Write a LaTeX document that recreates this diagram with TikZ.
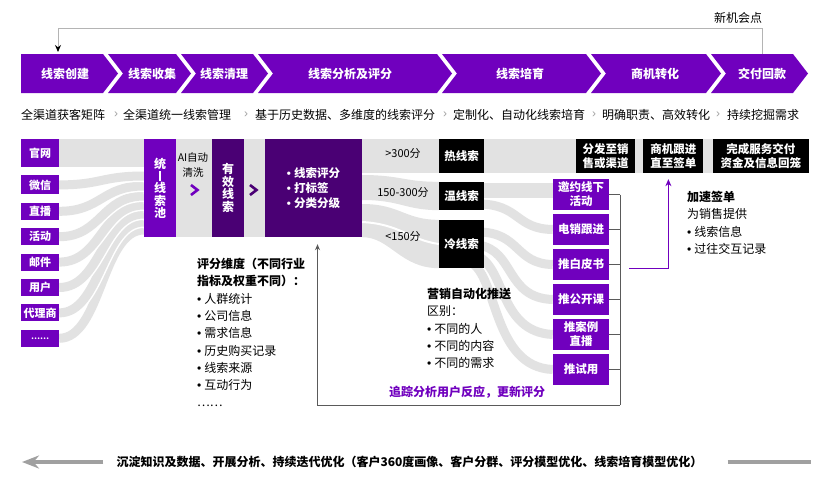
\documentclass[tikz,border=0pt]{standalone}
\usepackage{fontspec}
\setmainfont{Noto Sans CJK SC}
\newfontfamily\bulletfont{Liberation Sans}
\usepackage{tikz}
\usetikzlibrary{positioning,arrows.meta,calc,backgrounds}
\definecolor{leadpurple}{RGB}{112,0,190}
\definecolor{deeppurple}{RGB}{74,0,116}
\definecolor{bandgray}{RGB}{226,226,226}
\definecolor{linegray}{RGB}{180,180,180}
\definecolor{sedgray}{RGB}{160,160,160}
\definecolor{brackgray}{RGB}{90,90,90}
\newcommand{\sz}[2]{\fontsize{#1}{#2}\selectfont}
\newcommand{\bul}{{\bulletfont •}\hspace{3pt}}
\tikzset{
  funnel/.style={x=1pt,y=-1pt,
    >={Stealth[length=6pt,width=5pt]},
    node distance=8pt},
  every node/.style={inner sep=0pt},
  stagelabel/.style={text=white,font=\bfseries\sz{12}{14}},
  subtitle/.style={anchor=west,font=\sz{12}{14}},
  subsep/.style={text=sedgray,font=\bulletfont\sz{12}{14}},
  source/.style={fill=leadpurple,text=white,font=\bfseries\sz{11}{13},
    minimum width=38pt,minimum height=17pt},
  poolbox/.style={fill=leadpurple,text=white,font=\bfseries\sz{12}{12.3},
    align=center,minimum width=32pt,minimum height=98pt},
  deepbox/.style={fill=deeppurple,text=white,font=\bfseries\sz{12}{12.5},
    align=center,minimum height=98pt},
  blackbox/.style={fill=black,text=white,font=\bfseries\sz{11.5}{14},
    align=center,minimum width=45pt},
  pushbox/.style={fill=leadpurple,text=white,font=\bfseries\sz{11.5}{14},
    align=center,minimum width=56pt,minimum height=31pt},
  score label/.style={font=\sz{11}{13}},
  note/.style={anchor=north west,align=left,font=\sz{12}{17.3}},
  flow/.style={draw=bandgray,line width=9pt,
    preaction={draw=white,line width=12pt}},
  flow wide/.style={draw=bandgray,line width=15pt},
  gap chevron/.style={line width=2.6pt},
  loopline/.style={draw=linegray,line width=1pt,
    -{Stealth[black,length=7pt,width=6pt]},shorten >=2pt},
  bracket/.style={draw=brackgray,line width=0.9pt},
  push arrow/.style={draw=leadpurple,line width=1pt,
    -{Stealth[leadpurple,length=7pt,width=6pt]},shorten >=6pt},
  sediment/.style={draw=sedgray,line width=3.5pt}
}

\begin{document}
\begin{tikzpicture}[funnel]
\useasboundingbox (0,0) rectangle (832,490);

% stages along the top
\foreach \l/\r/\k/\cx/\t/\n in {21/103/0/65/线索创建/c1, 108/176/15/152/线索收集/c2,
    181/253/15/224/线索清理/c3, 258/437/15/350/线索分析及评分/c4,
    442/586/15/520/线索培育/c5, 591/706/15/655/商机转化/c6, 711/793/15/762/交付回款/c7}{
  \fill[leadpurple] (\l,54) -- (\r,54) -- (\r+15,73.5) -- (\r,93) -- (\l,93) -- (\l+\k,73.5) -- cycle;
  \node[stagelabel] (\n) at (\cx,73.5) {\t};
}
\coordinate (newop) at (762,54);
\coordinate (create) at (58,54);
\draw[loopline] (newop) -- ++(0,-26) -| (create);
\node[font=\sz{12}{14}] (newlbl) at (738,18) {新机会点};

% one line under each stage
\foreach \x/\t [count=\i] in {21/全渠道获客矩阵, 123/全渠道统一线索管理, 255/基于历史数据、多维度的线索评分,
    453/定制化、自动化线索培育, 602/明确职责、高效转化, 727/持续挖掘需求}
  \node[subtitle] (s\i) at (\x,115) {\t};
\foreach \x [count=\i] in {116,246,445,594,718}
  \node[subsep] (g\i) at (\x,115) {›};

% sources
\node[source,minimum height=28pt] (w1) at (40,153) {官网};
\node[source,minimum height=19pt,below=of w1] (w2) {微信};
\node[source,below=of w2] (w3) {直播};
\node[source,below=of w3] (w4) {活动};
\node[source,below=of w4] (w5) {邮件};
\node[source,below=of w5] (w6) {用户};
\node[source,below=of w6] (w7) {代理商};
\node[source,below=of w7,font=\bfseries\sz{8}{10}] (w8) {……};

% pool, cleaning, scoring
\node[poolbox] (pool) at (160,188) {统\\\rule[-0.5pt]{1.8pt}{10pt}\\线\\索\\池};
\node[font=\sz{10.5}{15},align=center] (clean) at (193,165.5) {AI自动\\清洗};
\node[deepbox,minimum width=32pt] (valid) at (228,188) {有\\效\\线\\索};
\node[deepbox,minimum width=97pt,align=left,font=\bfseries\sz{11.5}{15}] (score) at (313.5,188)
  {\bul 线索评分\\\bul 打标签\\\bul 分类分级};
\draw[leadpurple,gap chevron] (191,185) -- (197.5,190) -- (191,195);
\draw[deeppurple,gap chevron] (250,185) -- (256.5,190) -- (250,195);

% grades
\node[score label] (t1) at (403,153) {>300分};
\node[score label] (t2) at (403,192) {150-300分};
\node[score label] (t3) at (403,236) {<150分};
\node[blackbox,minimum height=34pt] (hot) at (461.5,156) {热线索};
\node[blackbox,minimum height=28pt] (warm) at (461.5,196) {温线索};
\node[blackbox,minimum height=48pt] (cold) at (461.5,244) {冷线索};

% hot lead path
\node[blackbox,minimum width=59pt,minimum height=34pt] (k1) at (605.5,156) {分发至销\\售或渠道};
\node[blackbox,minimum width=60pt,minimum height=34pt,right=of k1] (k2) {商机跟进\\直至签单};
\node[blackbox,minimum width=96pt,minimum height=34pt,right=9pt of k2] (k3) {完成服务交付\\资金及信息回笼};

% nurture actions
\node[pushbox] (m1) at (581,194.5) {邀约线下\\活动};
\node[pushbox,below=3.6pt of m1] (m2) {电销跟进};
\node[pushbox,below=3.6pt of m2] (m3) {推白皮书};
\node[pushbox,below=3.6pt of m3] (m4) {推公开课};
\node[pushbox,below=3.6pt of m4] (m5) {推案例\\直播};
\node[pushbox,below=3.6pt of m5] (m6) {推试用};

% gray bands behind
\begin{scope}[on background layer]
  \fill[bandgray] (w1.north east) rectangle (pool.west |- w1.south);
  \fill[bandgray] (pool.north east) rectangle (score.south west);
  \fill[bandgray] (score.north east) rectangle (k3.south east);
  \fill[bandgray] (score.east |- 0,175) .. controls (400,175) and (405,182) .. (warm.north west)
    -- (warm.south west) .. controls (405,210) and (400,200) .. (score.east |- 0,200) -- cycle;
  \fill[bandgray] (score.east |- 0,204) .. controls (400,204) and (405,220) .. (cold.north west)
    -- (cold.south west) .. controls (400,268) and (390,237) .. (score.south east) -- cycle;
  \draw[white,line width=2pt] (score.east |- 0,222) .. controls (400,224) and (410,240) .. (cold.west);
  \foreach \s/\y in {w8/230, w7/222, w6/214, w5/205, w4/196, w3/186, w2/176}
    \draw[flow] (\s.east) .. controls +(42,0) and +(-42,0) .. (pool.west |- 0,\y);
  \draw[flow] (470,262) .. controls (498,275) and (492,367) .. (m6.west);
  \draw[flow] (475,255) .. controls (506,265) and (498,332) .. (m5.west);
  \draw[flow] (478,245) .. controls (515,250) and (505,298) .. (m4.west);
  \draw[flow] (478,232) .. controls (520,232) and (515,264) .. (m3.west);
  \draw[flow] (478,204) .. controls (520,204) and (515,229) .. (m2.west);
  \draw[flow wide] (478,190.5) -- (m1.west |- 0,190.5);
\end{scope}

% feedback from nurturing to scoring
\coordinate (bt) at ($(m1.east)+(11,0)$);
\coordinate (bb) at ($(m6.east)+(11,35.5)$);
\draw[bracket] (bt) -- (bb);
\foreach \m in {m1,m2,m3,m4,m5,m6}
  \draw[bracket] (\m.east) -- (\m.east -| bt);
\draw[bracket,->,shorten >=7pt] (bb) -| ($(score.south)+(4,0)$);
\node[text=leadpurple,font=\bfseries\sz{12}{14}] (track) at (467,392) {追踪分析用户反应，更新评分};
\draw[push arrow] ($(m3.east)+(20,4)$) -| ($(k2.south)+(-5,0)$);

% notes
\node[note] (dims) at (197,258) {\textbf{评分维度（不同行业}\\\textbf{指标及权重不同）：}\\\bul 人群统计\\\bul 公司信息\\\bul 需求信息\\\bul 历史购买记录\\\bul 线索来源\\\bul 互动行为\\……};
\node[note] (diff) at (427,288) {\textbf{营销自动化推送}\\区别：\\\bul 不同的人\\\bul 不同的内容\\\bul 不同的需求};
\node[note] (sign) at (687,191) {\textbf{加速签单}\\为销售提供\\\bul 线索信息\\\bul 过往交互记录};

% bottom line
\node[font=\bfseries\sz{12}{14}] (kb) at (409.5,462)
  {沉淀知识及数据、开展分析、持续迭代优化（客户360度画像、客户分群、评分模型优化、线索培育模型优化）};
\coordinate (kbL) at (22,462);
\coordinate (kbR) at (811,462);
\draw[sediment,-{Stealth[length=17pt,width=13pt]}] ($(kb.west)+(-13,0)$) -- (kbL);
\draw[sediment] ($(kb.east)+(25,0)$) -- (kbR);
\end{tikzpicture}
\end{document}
